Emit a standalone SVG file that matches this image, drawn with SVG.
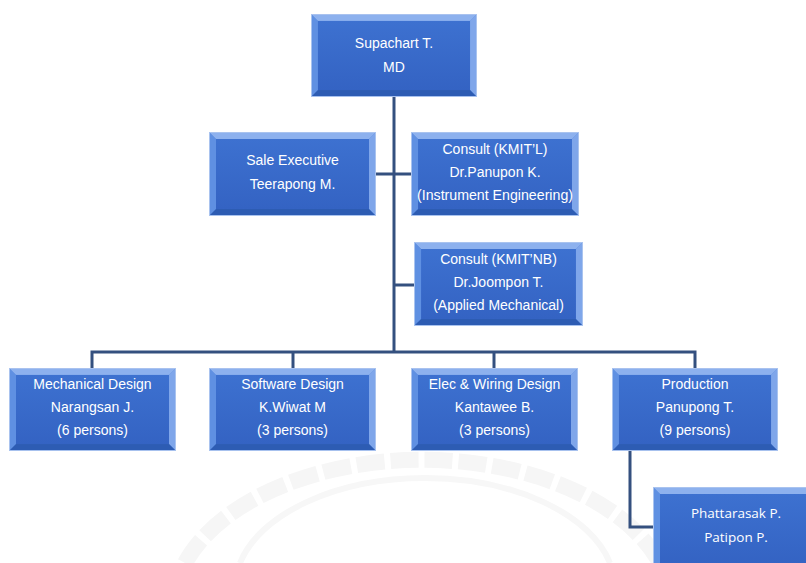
<svg xmlns="http://www.w3.org/2000/svg" width="806" height="563" viewBox="0 0 806 563">
<defs>
<linearGradient id="face" x1="0" y1="0" x2="0" y2="1">
<stop offset="0" stop-color="#3d71d0"/>
<stop offset="1" stop-color="#3463c3"/>
</linearGradient>
<symbol id="bevel" viewBox="0 0 167 84" preserveAspectRatio="none">
<rect x="0" y="0" width="167" height="84" fill="#5d8ce0"/>
<polygon points="0,0 167,0 160,7 7,7" fill="#8db1ee"/>
<polygon points="0,0 7,7 7,77 0,84" fill="#5f90e2"/>
<polygon points="167,0 160,7 160,77 167,84" fill="#7fa6ea"/>
<polygon points="0,84 7,77 160,77 167,84" fill="#2d5cb3"/>
<rect x="7" y="7" width="153" height="70" fill="url(#face)"/>
<rect x="0.5" y="0.5" width="166" height="83" fill="none" stroke="#a9c3ef" stroke-width="1"/>
</symbol>
</defs>
<style>
.t{font-family:"Liberation Sans",Arial,sans-serif;font-size:14px;fill:#ffffff;text-anchor:middle}
.t2{font-family:"Open Sans","Noto Sans",sans-serif;font-size:13.5px;fill:#ffffff;text-anchor:middle}
.c{fill:none;stroke:#34507f;stroke-width:3}
.wm{fill:none;stroke:#f6f6f6;stroke-width:16;stroke-dasharray:28 6}
</style>
<rect width="806" height="563" fill="#ffffff"/>
<g id="watermark">
<path class="wm" d="M185,563 A250,150 0 0 1 660,563"/>
<path d="M240,563 A190,110 0 0 1 610,563" fill="none" stroke="#f7f7f7" stroke-width="6"/>
</g>
<g id="connectors">
<line class="c" x1="394" y1="97" x2="394" y2="352"/>
<line class="c" x1="376" y1="174" x2="411" y2="174"/>
<line class="c" x1="394" y1="285" x2="414" y2="285"/>
<polyline class="c" points="92,368 92,352 695,352 695,368"/>
<line class="c" x1="293" y1="352" x2="293" y2="368"/>
<line class="c" x1="494" y1="352" x2="494" y2="368"/>
<polyline class="c" points="630,451 630,527 654,527"/>
</g>
<g id="md">
<use href="#bevel" x="311" y="14" width="166" height="83"/>
<text class="t" x="394" y="48">Supachart T.</text>
<text class="t" x="394" y="72">MD</text>
</g>
<g id="sale">
<use href="#bevel" x="209" y="132" width="167" height="84"/>
<text class="t" x="292.5" y="165">Sale Executive</text>
<text class="t" x="292.5" y="189">Teerapong M.</text>
</g>
<g id="consult1">
<use href="#bevel" x="411" y="132" width="168" height="84"/>
<text class="t" x="495" y="154">Consult (KMIT’L)</text>
<text class="t" x="495" y="177">Dr.Panupon K.</text>
<text class="t" x="495" y="200" textLength="156" lengthAdjust="spacingAndGlyphs">(Instrument Engineering)</text>
</g>
<g id="consult2">
<use href="#bevel" x="414" y="242" width="169" height="84"/>
<text class="t" x="498.5" y="264">Consult (KMIT’NB)</text>
<text class="t" x="498.5" y="287">Dr.Joompon T.</text>
<text class="t" x="498.5" y="310">(Applied Mechanical)</text>
</g>
<g id="mech">
<use href="#bevel" x="9" y="368" width="167" height="83"/>
<text class="t" x="92.5" y="389">Mechanical Design</text>
<text class="t" x="92.5" y="412">Narangsan J.</text>
<text class="t" x="92.5" y="435">(6 persons)</text>
</g>
<g id="software">
<use href="#bevel" x="209" y="368" width="167" height="83"/>
<text class="t" x="292.5" y="389">Software Design</text>
<text class="t" x="292.5" y="412">K.Wiwat M</text>
<text class="t" x="292.5" y="435">(3 persons)</text>
</g>
<g id="elec">
<use href="#bevel" x="411" y="368" width="167" height="83"/>
<text class="t" x="494.5" y="389">Elec &amp; Wiring Design</text>
<text class="t" x="494.5" y="412">Kantawee B.</text>
<text class="t" x="494.5" y="435">(3 persons)</text>
</g>
<g id="production">
<use href="#bevel" x="612" y="368" width="166" height="83"/>
<text class="t" x="695" y="389">Production</text>
<text class="t" x="695" y="412">Panupong T.</text>
<text class="t" x="695" y="435">(9 persons)</text>
</g>
<g id="staff">
<use href="#bevel" x="653" y="487" width="167" height="84"/>
<text class="t2" x="736" y="518">Phattarasak P.</text>
<text class="t2" x="736" y="542">Patipon P.</text>
</g>
</svg>
